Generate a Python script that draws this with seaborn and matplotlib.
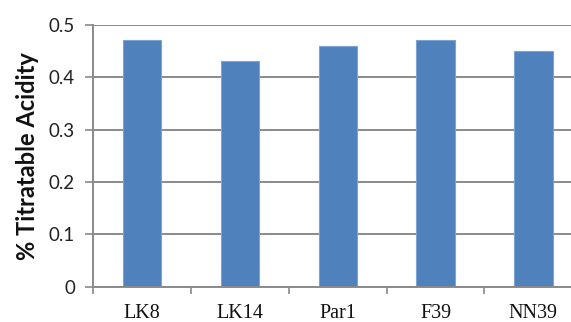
import numpy as np
import pandas as pd
import matplotlib
matplotlib.use("Agg")
import matplotlib.pyplot as plt
import seaborn as sns

# Titratable acidity per sample
samples = ["LK8", "LK14", "Par1", "F39", "NN39"]
acidity = [0.47, 0.43, 0.46, 0.47, 0.45]
y_ticks = [0, 0.1, 0.2, 0.3, 0.4, 0.5]
y_tick_labels = ["0", "0.1", "0.2", "0.3", "0.4", "0.5"]

df = pd.DataFrame({"sample": samples, "acidity": acidity})

sns.set_style("white")

fig = plt.figure(figsize=(5.71, 3.22), dpi=100)
ax = fig.add_axes([0.1629, 0.1087, 0.857, 0.8152])

grid_color = "#8a8a8a"
ax.set_axisbelow(True)
ax.yaxis.grid(True, color=grid_color, linewidth=1.4)

sns.barplot(data=df, x="sample", y="acidity", ax=ax, color="#4f81bd",
            saturation=1, width=0.39, edgecolor="#7ea3d3", linewidth=0.8)

ax.set_xlim(-0.5, len(samples) - 0.5)
ax.set_ylim(0, 0.5)
ax.set_yticks(y_ticks)
ax.set_yticklabels(y_tick_labels, family="Lato", fontsize=13.5, color="#222222")

# category labels at centres, tick marks between categories
ax.set_xticks(range(len(samples)))
ax.set_xticklabels(samples, family="Liberation Serif", fontsize=14.5, color="#111111")
ax.set_xticks(np.arange(-0.5, len(samples)), minor=True)
ax.tick_params(axis="x", which="major", length=0, pad=12)
ax.tick_params(axis="x", which="minor", length=5, width=1.2, color=grid_color,
               direction="out", bottom=True)
ax.tick_params(axis="y", length=6, width=1.2, color=grid_color, direction="out",
               left=True, pad=7)

ax.set_xlabel("")
ax.set_ylabel("% Titratable Acidity", family="Lato", fontweight="bold",
              fontsize=17, color="#111111", labelpad=7)

for side in ["top", "right"]:
    ax.spines[side].set_visible(False)
for side in ["left", "bottom"]:
    ax.spines[side].set_color(grid_color)
    ax.spines[side].set_linewidth(1.4)

fig.savefig("out.png", dpi=100, facecolor="white")
